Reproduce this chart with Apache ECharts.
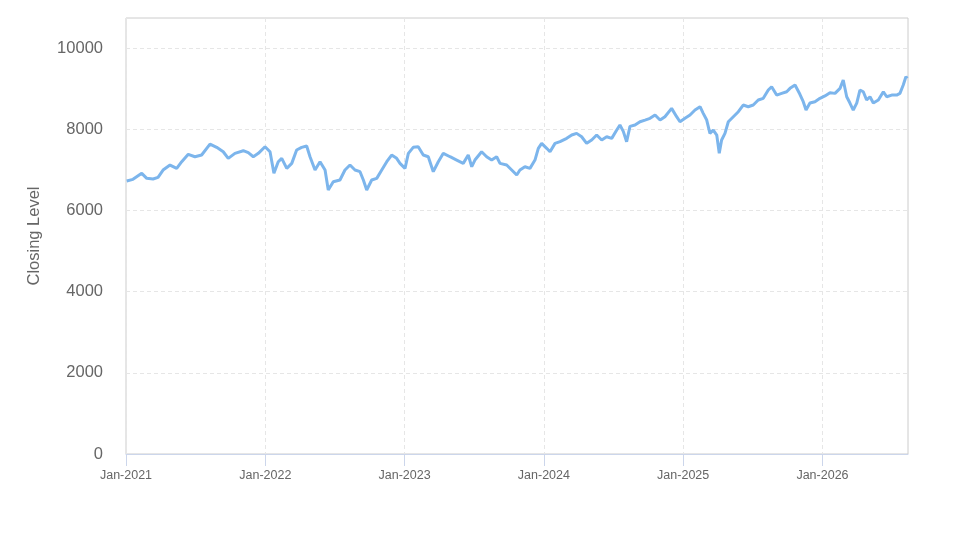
<!DOCTYPE html>
<html>
<head>
<meta charset="utf-8">
<script src="https://cdn.jsdelivr.net/npm/echarts@6/dist/echarts.min.js"></script>
<style>
html,body{margin:0;padding:0;background:#fff;}
#chart{width:973px;height:547px;}
</style>
</head>
<body>
<div id="chart"></div>
<script>
// time in decimal years
var timeYears = [
2021.005,2021.050,2021.113,2021.149,2021.194,2021.230,2021.266,2021.316,2021.364,2021.400,
2021.447,2021.495,2021.543,2021.603,2021.651,2021.698,2021.734,2021.782,2021.842,2021.878,
2021.914,2021.950,2021.998,2022.034,2022.062,2022.093,2022.118,2022.154,2022.190,2022.225,
2022.261,2022.297,2022.321,2022.357,2022.393,2022.429,2022.452,2022.488,2022.536,2022.572,
2022.608,2022.644,2022.680,2022.704,2022.728,2022.764,2022.800,2022.836,2022.872,2022.907,
2022.943,2022.967,2023.003,2023.027,2023.062,2023.098,2023.134,2023.170,2023.206,2023.242,
2023.278,2023.326,2023.374,2023.421,2023.457,2023.482,2023.505,2023.553,2023.589,2023.625,
2023.661,2023.685,2023.733,2023.769,2023.805,2023.828,2023.864,2023.900,2023.936,2023.960,
2023.984,2024.020,2024.044,2024.080,2024.116,2024.164,2024.200,2024.235,2024.271,2024.307,
2024.343,2024.379,2024.415,2024.451,2024.487,2024.523,2024.546,2024.570,2024.594,2024.618,
2024.654,2024.690,2024.726,2024.762,2024.798,2024.834,2024.869,2024.917,2024.953,2024.977,
2025.013,2025.049,2025.085,2025.121,2025.144,2025.169,2025.192,2025.216,2025.241,2025.259,
2025.276,2025.300,2025.324,2025.360,2025.396,2025.431,2025.467,2025.503,2025.539,2025.575,
2025.611,2025.635,2025.671,2025.707,2025.743,2025.767,2025.803,2025.838,2025.862,2025.882,
2025.910,2025.946,2025.982,2026.018,2026.054,2026.090,2026.126,2026.149,2026.174,2026.197,
2026.221,2026.246,2026.269,2026.293,2026.317,2026.341,2026.365,2026.401,2026.437,2026.461,
2026.497,2026.533,2026.556,2026.580,2026.599,2026.609
];
var closingLevel = [
6724,6766,6914,6790,6773,6814,6995,7118,7036,7200,
7382,7323,7365,7635,7554,7446,7283,7406,7471,7422,
7323,7406,7570,7446,6914,7200,7283,7036,7159,7488,
7554,7586,7323,6995,7200,6995,6502,6707,6749,6995,
7118,6995,6954,6749,6502,6749,6790,6995,7200,7365,
7283,7159,7036,7406,7554,7570,7365,7323,6954,7200,
7406,7323,7241,7159,7365,7077,7241,7446,7323,7241,
7323,7159,7118,6995,6872,6995,7077,7036,7241,7530,
7652,7530,7446,7652,7693,7775,7857,7898,7815,7652,
7734,7857,7734,7815,7775,7980,8103,7947,7693,8071,
8103,8185,8226,8268,8350,8226,8309,8514,8309,8185,
8268,8350,8473,8555,8391,8226,7898,7980,7857,7406,
7734,7898,8185,8309,8432,8596,8555,8596,8719,8761,
8966,9048,8842,8883,8924,9007,9089,8860,8678,8473,
8645,8678,8761,8820,8900,8883,9007,9212,8801,8645,
8473,8645,8966,8924,8719,8801,8645,8719,8924,8801,
8842,8842,8883,9089,9294,9253
];
var xTickYears = [2021,2022,2023,2024,2025,2026];
var yTicks = [0,2000,4000,6000,8000,10000];

var seriesData = timeYears.map(function(t,i){ return [t, closingLevel[i]]; });

var chart = echarts.init(document.getElementById('chart'), null, {renderer:'canvas'});
chart.setOption({
  animation:false,
  backgroundColor:'#ffffff',
  grid:{left:126,right:65,top:18,bottom:93,show:true,borderColor:'#cccccc',borderWidth:1,containLabel:false},
  xAxis:{
    type:'value',
    min:2021,
    max:2026.614,
    axisLine:{show:true,lineStyle:{color:'#ccd6eb',width:1}},
    axisTick:{show:true,length:12,lineStyle:{color:'#ccd6eb'},customValues:xTickYears},
    axisLabel:{customValues:xTickYears,margin:15,color:'#666666',fontSize:12.5,fontFamily:'Liberation Sans, Arial, sans-serif',
      formatter:function(v){return 'Jan-'+Math.round(v);}},
    splitLine:{show:true,lineStyle:{color:'#e6e6e6',type:[4,3]}}
  },
  yAxis:{
    type:'value',
    min:0,
    max:10740,
    name:'Closing Level',
    nameLocation:'middle',
    nameGap:83,
    nameRotate:90,
    nameTextStyle:{color:'#666666',fontSize:16.5,fontFamily:'Liberation Sans, Arial, sans-serif'},
    axisLine:{show:false},
    axisTick:{show:false,customValues:yTicks},
    axisLabel:{customValues:yTicks,margin:23,color:'#666666',fontSize:16.5,fontFamily:'Liberation Sans, Arial, sans-serif',
      formatter:function(v){return String(Math.round(v));}},
    splitLine:{show:true,lineStyle:{color:'#e6e6e6',type:[4,3]}}
  },
  series:[{
    type:'line',
    data:seriesData,
    showSymbol:false,
    symbol:'none',
    lineStyle:{color:'#7cb5ec',width:3},
    itemStyle:{color:'#7cb5ec'}
  }]
});
</script>
</body>
</html>
